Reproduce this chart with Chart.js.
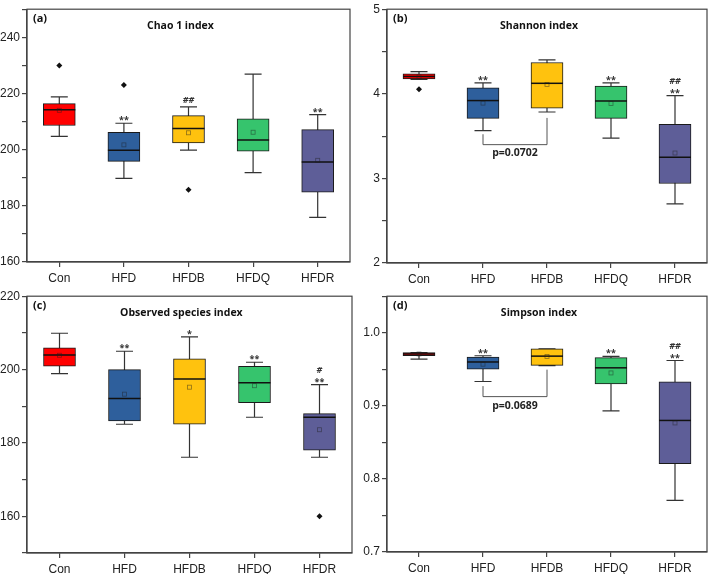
<!DOCTYPE html>
<html>
<head>
<meta charset="utf-8">
<script src="https://cdn.jsdelivr.net/npm/chart.js@4.4.1/dist/chart.umd.min.js"></script>
<style>
  body { margin: 0; background: #fff; }
  .panel { position: absolute; }
</style>
</head>
<body>
<div class="panel" style="left:0;top:0"><canvas id="chao" width="356" height="287"></canvas></div>
<div class="panel" style="left:356px;top:0"><canvas id="shannon" width="353" height="287"></canvas></div>
<div class="panel" style="left:0;top:287px"><canvas id="observed" width="356" height="287"></canvas></div>
<div class="panel" style="left:356px;top:287px"><canvas id="simpson" width="353" height="287"></canvas></div>
<script>
const groups = ['Con', 'HFD', 'HFDB', 'HFDQ', 'HFDR'];
const boxColors = ['#ff0000', '#2e5f9c', '#ffc20e', '#36c46d', '#5e5e98'];

// each box: [whisker low, Q1, median, Q3, whisker high]
const chaoBox = [
	[204.7, 208.6, 214.2, 216.4, 218.8],
	[189.8, 195.8, 199.8, 206.2, 209.4],
	[199.8, 202.4, 207.5, 212.1, 215.2],
	[191.8, 199.5, 203.4, 211.0, 226.9],
	[175.9, 184.9, 195.6, 207.1, 212.5],
];
const chaoMean = [214.0, 201.7, 206.0, 206.2, 196.2];
const chaoOutliers = [[230], [223], [185.7], [], []];
const chaoSig = [[], ['**'], ['##'], [], ['**']];

const shannonBox = [
	[4.17, 4.175, 4.205, 4.236, 4.263],
	[3.565, 3.71, 3.92, 4.07, 4.13],
	[3.785, 3.83, 4.124, 4.37, 4.40],
	[3.476, 3.71, 3.915, 4.09, 4.128],
	[2.70, 2.94, 3.25, 3.64, 3.978],
];
const shannonMean = [4.2, 3.89, 4.11, 3.885, 3.30];
const shannonOutliers = [[4.055], [], [], [], []];
const shannonSig = [[], ['**'], [], ['**'], ['##', '**']];

const observedBox = [
	[198.9, 200.9, 204.0, 205.9, 209.9],
	[185.1, 186.0, 192.1, 200.0, 205.0],
	[176.1, 185.1, 197.4, 202.9, 208.9],
	[187.0, 191.0, 196.4, 200.9, 202.0],
	[176.1, 178.0, 187.0, 188.0, 195.9],
];
const observedMean = [203.9, 193.3, 195.2, 195.6, 183.6];
const observedOutliers = [[], [], [], [], [160]];
const observedSig = [[], ['**'], ['*'], ['**'], ['#', '**']];

const simpsonBox = [
	[0.964, 0.9685, 0.971, 0.973, 0.973],
	[0.9333, 0.950, 0.960, 0.9667, 0.9685],
	[0.955, 0.9554, 0.968, 0.978, 0.978],
	[0.8932, 0.930, 0.952, 0.966, 0.9676],
	[0.7707, 0.8207, 0.880, 0.933, 0.962],
];
const simpsonMean = [0.971, 0.957, 0.9676, 0.945, 0.8766];
const simpsonOutliers = [[], [], [], [], []];
const simpsonSig = [[], ['**'], [], ['**'], ['##', '**']];

// p-value brackets: [from, to, left leg top, right leg top, bottom, label y]
const shannonBracket = ['HFD', 'HFDB', 3.522, 3.715, 3.399, 3.30];
const observedBracket = null;
const simpsonBracket = ['HFD', 'HFDB', 0.927, 0.9495, 0.9126, 0.900];

const makeBoxPlugin = (p) => ({
	id: 'boxplot',
	beforeDatasetsDraw(chart) {
		const ctx = chart.ctx;
		const y = chart.scales.y;
		const bars = chart.getDatasetMeta(0).data;
		ctx.save();
		ctx.strokeStyle = '#333';
		ctx.lineWidth = 1.2;
		p.stats.forEach((s, i) => {
			const x = bars[i].x;
			ctx.beginPath();
			ctx.moveTo(x, y.getPixelForValue(s[0]));
			ctx.lineTo(x, y.getPixelForValue(s[4]));
			[s[0], s[4]].forEach((v) => {
				const py = y.getPixelForValue(v);
				ctx.moveTo(x - 8.5, py);
				ctx.lineTo(x + 8.5, py);
			});
			ctx.stroke();
		});
		ctx.restore();
	},
	afterDatasetsDraw(chart) {
		const ctx = chart.ctx;
		const xs = chart.scales.x;
		const y = chart.scales.y;
		const area = chart.chartArea;
		const bars = chart.getDatasetMeta(0).data;
		ctx.save();

		p.stats.forEach((s, i) => {
			const b = bars[i];
			const half = b.width / 2;
			// median
			ctx.strokeStyle = '#111';
			ctx.lineWidth = 1.5;
			ctx.beginPath();
			ctx.moveTo(b.x - half, y.getPixelForValue(s[2]));
			ctx.lineTo(b.x + half, y.getPixelForValue(s[2]));
			ctx.stroke();
			// mean
			ctx.strokeStyle = 'rgba(30,30,30,0.5)';
			ctx.lineWidth = 0.8;
			ctx.strokeRect(b.x - 2, y.getPixelForValue(p.means[i]) - 2, 4, 4);
			// outliers
			ctx.fillStyle = '#111';
			p.outliers[i].forEach((v) => {
				const py = y.getPixelForValue(v);
				ctx.beginPath();
				ctx.moveTo(b.x, py - 3);
				ctx.lineTo(b.x + 3, py);
				ctx.lineTo(b.x, py + 3);
				ctx.lineTo(b.x - 3, py);
				ctx.closePath();
				ctx.fill();
			});
			// significance marks
			let ty = y.getPixelForValue(s[4]) - 2;
			ctx.fillStyle = '#333';
			ctx.textAlign = 'center';
			ctx.textBaseline = 'bottom';
			p.sig[i].slice().reverse().forEach((t) => {
				ctx.font = (t.includes('#') ? 'italic bold 9px ' : 'bold 9px ') + '"Open Sans"';
				ctx.fillText(t, b.x, ty + (t.includes('*') ? 4 : 0));
				ty -= 8;
			});
		});

		if (p.bracket) {
			const [from, to, lt, rt, bot, ly] = p.bracket;
			const x1 = xs.getPixelForValue(groups.indexOf(from));
			const x2 = xs.getPixelForValue(groups.indexOf(to));
			ctx.strokeStyle = '#555';
			ctx.lineWidth = 1;
			ctx.beginPath();
			ctx.moveTo(x1, y.getPixelForValue(lt));
			ctx.lineTo(x1, y.getPixelForValue(bot));
			ctx.lineTo(x2, y.getPixelForValue(bot));
			ctx.lineTo(x2, y.getPixelForValue(rt));
			ctx.stroke();
			ctx.fillStyle = '#222';
			ctx.font = 'bold 10.5px "Open Sans"';
			ctx.textAlign = 'center';
			ctx.textBaseline = 'middle';
			ctx.fillText(p.pLabel, (x1 + x2) / 2, y.getPixelForValue(ly));
		}

		// panel tag and title
		ctx.fillStyle = '#111';
		ctx.textBaseline = 'middle';
		ctx.textAlign = 'left';
		ctx.font = 'bold 11px "Open Sans"';
		ctx.fillText(p.tag, area.left + 6, area.top + 10);
		ctx.textAlign = 'center';
		ctx.font = 'bold 10.5px "Open Sans"';
		ctx.fillText(p.title, area.left + (area.right - area.left) * 0.475, area.top + 17);

		// frame
		ctx.strokeStyle = '#444';
		ctx.lineWidth = 1.2;
		ctx.strokeRect(area.left, area.top, area.right - area.left, area.bottom - area.top);
		ctx.restore();
	},
});

const makeChart = (id, p) => {
	return new Chart(document.getElementById(id), {
		type: 'bar',
		data: {
			labels: groups,
			datasets: [
				{
					data: p.stats.map((s) => [s[1], s[3]]),
					backgroundColor: boxColors,
					borderColor: '#1a1a1a',
					borderWidth: 1,
					borderSkipped: false,
					barThickness: 32,
				},
			],
		},
		options: {
			responsive: false,
			animation: false,
			layout: { padding: p.pad },
			plugins: {
				legend: { display: false },
				tooltip: { enabled: false },
			},
			scales: {
				x: {
					grid: { offset: false, drawOnChartArea: false, tickLength: 5, color: '#444', lineWidth: 1.2 },
					border: { color: '#444', width: 1.2 },
					ticks: { color: '#222', padding: 4, font: { family: 'Liberation Sans', size: 12 } },
					afterFit: (s) => {
						s.height = p.xh;
					},
				},
				y: {
					min: p.min,
					max: p.max,
					grid: { drawOnChartArea: false, tickLength: 5, color: '#444', lineWidth: 1.2 },
					border: { color: '#444', width: 1.2 },
					ticks: {
						stepSize: p.step,
						autoSkip: false,
						padding: 2,
						color: '#222',
						font: { family: 'Liberation Sans', size: 12 },
						callback: p.label,
					},
					afterFit: (s) => {
						s.width = p.yw;
					},
				},
			},
		},
		plugins: [makeBoxPlugin(p)],
	});
};

const near = (v, m) => Math.abs(v / m - Math.round(v / m)) < 1e-6;

makeChart('chao', {
	stats: chaoBox, means: chaoMean, outliers: chaoOutliers, sig: chaoSig,
	tag: '(a)', title: 'Chao 1 index', bracket: null,
	min: 160, max: 250, step: 10,
	label: (v) => (near(v, 20) && v < 250 ? v : ''),
	pad: { top: 3, right: 6, left: 0, bottom: 0 }, yw: 27, xh: 25,
});

makeChart('shannon', {
	stats: shannonBox, means: shannonMean, outliers: shannonOutliers, sig: shannonSig,
	tag: '(b)', title: 'Shannon index', bracket: shannonBracket, pLabel: 'p=0.0702',
	min: 2, max: 5, step: 0.5,
	label: (v) => (near(v, 1) ? Math.round(v) : ''),
	pad: { top: 5, right: 2, left: 0, bottom: 0 }, yw: 31, xh: 24,
});

makeChart('observed', {
	stats: observedBox, means: observedMean, outliers: observedOutliers, sig: observedSig,
	tag: '(c)', title: 'Observed species index', bracket: observedBracket,
	min: 150, max: 220, step: 10,
	label: (v) => (near(v, 20) ? v : ''),
	pad: { top: 5, right: 4, left: 0, bottom: 0 }, yw: 27, xh: 21,
});

makeChart('simpson', {
	stats: simpsonBox, means: simpsonMean, outliers: simpsonOutliers, sig: simpsonSig,
	tag: '(d)', title: 'Simpson index', bracket: simpsonBracket, pLabel: 'p=0.0689',
	min: 0.7, max: 1.05, step: 0.05,
	label: (v) => (near(v, 0.1) ? v.toFixed(1) : ''),
	pad: { top: 7, right: 2, left: 0, bottom: 0 }, yw: 31, xh: 22,
});
</script>
</body>
</html>
